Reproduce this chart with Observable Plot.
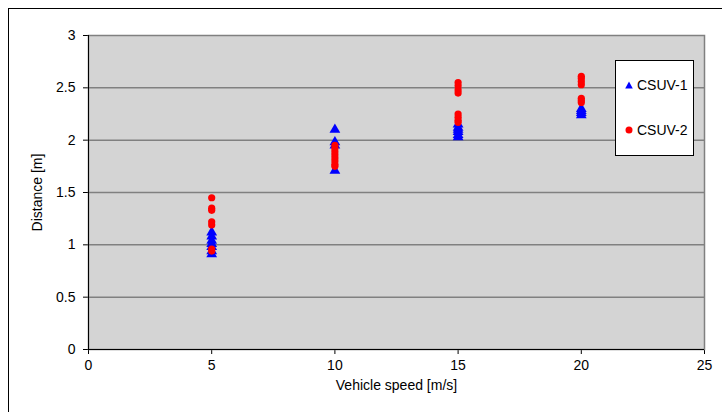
<!DOCTYPE html>
<html><head><meta charset="utf-8">
<script src="https://cdn.jsdelivr.net/npm/d3@7"></script>
<script src="https://cdn.jsdelivr.net/npm/@observablehq/plot@0.6"></script>
<style>
body{margin:0;background:#fff;font-family:"Liberation Sans",Arial,sans-serif;}
#wrap{position:relative;width:722px;height:412px;overflow:hidden;}
#outer{position:absolute;left:8px;top:8px;width:800px;height:500px;border-top:1px solid #000;border-left:1px solid #000;}
#chart{position:absolute;left:0;top:0;}
#legend{position:absolute;left:615px;top:60px;width:77px;height:94px;background:#fff;border:1px solid #000;font-size:14px;}
.li{position:absolute;left:9px;display:flex;align-items:center;}
.li span{margin-left:4px;}
</style></head><body>
<div id="wrap"><div id="outer"></div><div id="chart"></div>
<div id="legend">
<div class="li" style="top:16px"><svg width="8" height="8"><path d="M4,0.5L7.8,7.5L0.2,7.5Z" fill="#0000ff"/></svg><span>CSUV-1</span></div>
<div class="li" style="top:61px"><svg width="8" height="8"><circle cx="4" cy="4" r="3.5" fill="#ff0000"/></svg><span>CSUV-2</span></div>
</div></div>
<script>
const speeds1 = [5,5,5,5,5,5,5, 10,10,10,10, 15,15,15,15,15,15, 20,20,20,20];
const csuv1 =   [1.12,1.08,1.04,1.01,0.98,0.94,0.91, 2.10,1.98,1.95,1.71, 2.15,2.12,2.10,2.08,2.05,2.03, 2.30,2.28,2.26,2.24];
const speeds2 = [5,5,5,5,5,5,5, 10,10,10,10,10,10,10,10, 15,15,15,15,15,15,15,15, 20,20,20,20,20,20,20];
const csuv2 =   [1.45,1.35,1.33,1.22,1.19,0.96,0.94, 1.95,1.92,1.89,1.86,1.83,1.80,1.77,1.75, 2.55,2.52,2.48,2.45,2.25,2.22,2.19,2.17, 2.61,2.59,2.56,2.53,2.40,2.38,2.36];
const xTicks = [0,5,10,15,20,25];
const yTicks = [0,0.5,1,1.5,2,2.5,3];
const gridY = [0.5,1,1.5,2,2.5];

const d1 = speeds1.map((s,i)=>({speed:s, dist:csuv1[i]}));
const d2 = speeds2.map((s,i)=>({speed:s, dist:csuv2[i]}));

const plot = Plot.plot({
  width:722, height:412,
  marginLeft:88, marginRight:18, marginTop:35, marginBottom:63,
  style:{fontFamily:'"Liberation Sans",Arial,sans-serif', fontSize:"14px", background:"transparent", color:"#000"},
  x:{domain:[0,25], ticks:xTicks, tickSize:5, tickPadding:6, label:"Vehicle speed [m/s]", labelAnchor:"center", labelOffset:40, labelArrow:"none"},
  y:{domain:[0,3], ticks:yTicks, tickSize:5, tickPadding:8, tickFormat:d=>String(d), label:"Distance [m]", labelAnchor:"center", labelOffset:56, labelArrow:"none"},
  marks:[
    Plot.frame({fill:"#d4d4d4", stroke:"#808080", strokeWidth:1.5}),
    Plot.ruleY(gridY, {stroke:"#808080", strokeWidth:1.5}),
    Plot.ruleX([0], {stroke:"#000"}),
    Plot.ruleY([0], {stroke:"#000"}),
    Plot.dot(d1, {x:"speed", y:"dist", symbol:"triangle", r:4, fill:"#0000ff", stroke:"none"}),
    Plot.dot(d2, {x:"speed", y:"dist", symbol:"circle", r:3.6, fill:"#ff0000", stroke:"none"})
  ]
});
document.getElementById("chart").appendChild(plot);
</script></body></html>
